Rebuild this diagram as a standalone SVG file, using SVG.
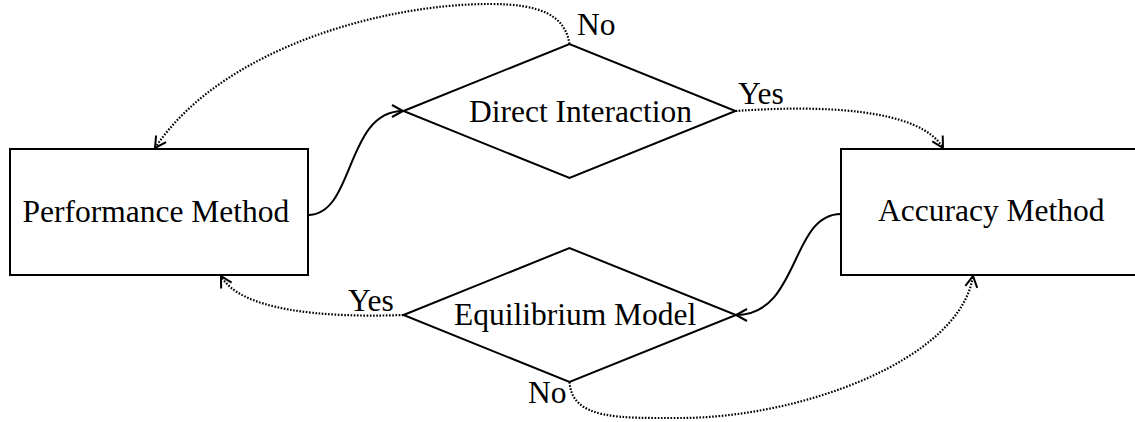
<svg xmlns="http://www.w3.org/2000/svg" width="1135" height="422" viewBox="0 0 1135 422">
<style>
text{font-family:"Liberation Serif","Times New Roman",serif;font-size:31.5px;fill:#000}
.shape{fill:#fff;stroke:#000;stroke-width:2}
.edge{fill:none;stroke:#000;stroke-width:2}
.dot{stroke-width:2.2;stroke-dasharray:1.6 1.6}
</style>
<defs>
<marker id="arr" markerUnits="userSpaceOnUse" markerWidth="16" markerHeight="16" refX="12" refY="6.5" orient="auto" overflow="visible">
<path d="M1,0.5 L12,6.5 L1,12.5" fill="none" stroke="#000" stroke-width="2" stroke-dasharray="none"/>
</marker>
</defs>
<rect width="1135" height="422" fill="#fff"/>
<g id="performance-method">
<rect class="shape" x="10" y="149" width="298" height="126"/>
<text x="22.5" y="221.5">Performance Method</text>
</g>
<g id="accuracy-method">
<rect class="shape" x="841" y="149" width="300" height="126"/>
<text x="878" y="221">Accuracy Method</text>
</g>
<g id="direct-interaction">
<polygon class="shape" points="403.5,111 569.5,44 735.5,111 569.5,178"/>
<text x="469" y="121.5">Direct Interaction</text>
</g>
<g id="equilibrium-model">
<polygon class="shape" points="403.5,315 569.5,248 736,315 569.5,382"/>
<text x="454" y="325">Equilibrium Model</text>
</g>
<g id="connectors">
<path class="edge" d="M308,215 C355,215 345,111 403,111" marker-end="url(#arr)"/>
<path class="edge dot" d="M735.5,111 C820,105 920,108 943,148" marker-end="url(#arr)"/>
<path class="edge dot" d="M569.5,44 C565,15 540,4 490,4 C380,4 220,50 155,148" marker-end="url(#arr)"/>
<path class="edge" d="M841,214 C790,214 800,315 736,315" marker-end="url(#arr)"/>
<path class="edge dot" d="M403.5,315 C320,318 240,310 221,276" marker-end="url(#arr)"/>
<path class="edge dot" d="M569.5,382 C572,420 620,418 680,418 C800,418 960,360 973,276" marker-end="url(#arr)"/>
<text x="577" y="35">No</text>
<text x="738" y="104">Yes</text>
<text x="348" y="311">Yes</text>
<text x="528" y="403">No</text>
</g>
</svg>
